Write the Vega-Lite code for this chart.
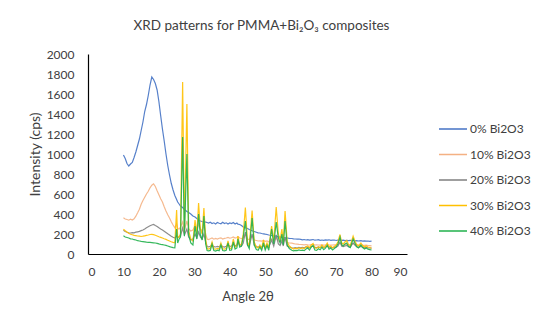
{
  "$schema": "https://vega.github.io/schema/vega-lite/v6.json",
  "width": 319,
  "height": 200,
  "autosize": {"type": "none"},
  "padding": {"left": 88, "top": 54, "right": 143, "bottom": 73},
  "background": "white",
  "title": {"text": "XRD patterns for PMMA+Bi₂O₃ composites", "font": "Lato", "fontSize": 13.5, "fontWeight": "normal", "color": "#404040", "anchor": "middle", "dx": 14, "offset": 16},
  "data": {"values": [
    {"a":10,"s0":990,"s10":362,"s20":238,"s30":248,"s40":182},
    {"a":10.5,"s0":955,"s10":350,"s20":225,"s30":232,"s40":170},
    {"a":11,"s0":905,"s10":345,"s20":218,"s30":220,"s40":165},
    {"a":11.5,"s0":880,"s10":338,"s20":212,"s30":208,"s40":160},
    {"a":12,"s0":900,"s10":348,"s20":210,"s30":198,"s40":152},
    {"a":12.5,"s0":915,"s10":340,"s20":214,"s30":192,"s40":150},
    {"a":13,"s0":965,"s10":352,"s20":212,"s30":186,"s40":143},
    {"a":13.5,"s0":1020,"s10":378,"s20":218,"s30":184,"s40":140},
    {"a":14,"s0":1085,"s10":412,"s20":222,"s30":180,"s40":133},
    {"a":14.5,"s0":1150,"s10":448,"s20":226,"s30":178,"s40":130},
    {"a":15,"s0":1235,"s10":498,"s20":234,"s30":175,"s40":126},
    {"a":15.5,"s0":1320,"s10":535,"s20":240,"s30":178,"s40":124},
    {"a":16,"s0":1425,"s10":568,"s20":250,"s30":182,"s40":121},
    {"a":16.5,"s0":1495,"s10":600,"s20":262,"s30":186,"s40":118},
    {"a":17,"s0":1585,"s10":628,"s20":272,"s30":190,"s40":117},
    {"a":17.5,"s0":1690,"s10":662,"s20":282,"s30":195,"s40":116},
    {"a":18,"s0":1770,"s10":688,"s20":290,"s30":196,"s40":114},
    {"a":18.5,"s0":1745,"s10":702,"s20":296,"s30":194,"s40":112},
    {"a":19,"s0":1705,"s10":675,"s20":285,"s30":188,"s40":110},
    {"a":19.5,"s0":1640,"s10":632,"s20":275,"s30":180,"s40":106},
    {"a":20,"s0":1525,"s10":592,"s20":262,"s30":172,"s40":101},
    {"a":20.5,"s0":1385,"s10":552,"s20":250,"s30":166,"s40":97},
    {"a":21,"s0":1250,"s10":520,"s20":240,"s30":160,"s40":94},
    {"a":21.5,"s0":1130,"s10":472,"s20":228,"s30":152,"s40":90},
    {"a":22,"s0":1000,"s10":430,"s20":215,"s30":146,"s40":86},
    {"a":22.5,"s0":885,"s10":392,"s20":202,"s30":138,"s40":80},
    {"a":23,"s0":790,"s10":360,"s20":190,"s30":130,"s40":74},
    {"a":23.5,"s0":705,"s10":322,"s20":178,"s30":122,"s40":68},
    {"a":24,"s0":640,"s10":290,"s20":168,"s30":116,"s40":64},
    {"a":24.5,"s0":585,"s10":262,"s20":160,"s30":112,"s40":62},
    {"a":25,"s0":545,"s10":300,"s20":180,"s30":440,"s40":250},
    {"a":25.3,"s0":520,"s10":255,"s20":165,"s30":160,"s40":110},
    {"a":25.7,"s0":500,"s10":250,"s20":170,"s30":175,"s40":150},
    {"a":26.1,"s0":480,"s10":270,"s20":180,"s30":200,"s40":170},
    {"a":26.7,"s0":465,"s10":320,"s20":260,"s30":1720,"s40":1170},
    {"a":27.2,"s0":445,"s10":240,"s20":190,"s30":220,"s40":180},
    {"a":27.9,"s0":425,"s10":330,"s20":250,"s30":1500,"s40":1000},
    {"a":28.4,"s0":415,"s10":250,"s20":170,"s30":230,"s40":190},
    {"a":29,"s0":400,"s10":230,"s20":140,"s30":150,"s40":110},
    {"a":29.6,"s0":380,"s10":240,"s20":150,"s30":130,"s40":90},
    {"a":30.2,"s0":370,"s10":280,"s20":200,"s30":340,"s40":280},
    {"a":30.7,"s0":355,"s10":240,"s20":160,"s30":200,"s40":150},
    {"a":31.2,"s0":340,"s10":300,"s20":220,"s30":510,"s40":400},
    {"a":31.7,"s0":330,"s10":250,"s20":170,"s30":250,"s40":190},
    {"a":32.2,"s0":325,"s10":230,"s20":150,"s30":200,"s40":140},
    {"a":32.7,"s0":322,"s10":290,"s20":200,"s30":460,"s40":380},
    {"a":33.2,"s0":318,"s10":200,"s20":120,"s30":150,"s40":100},
    {"a":33.6,"s0":315,"s10":150,"s20":75,"s30":55,"s40":35},
    {"a":34,"s0":310,"s10":145,"s20":72,"s30":50,"s40":32},
    {"a":34.5,"s0":318,"s10":152,"s20":78,"s30":58,"s40":36},
    {"a":35,"s0":305,"s10":160,"s20":90,"s30":120,"s40":100},
    {"a":35.5,"s0":312,"s10":148,"s20":74,"s30":52,"s40":34},
    {"a":36,"s0":300,"s10":155,"s20":70,"s30":48,"s40":30},
    {"a":36.5,"s0":315,"s10":150,"s20":76,"s30":55,"s40":38},
    {"a":37,"s0":308,"s10":158,"s20":72,"s30":50,"s40":33},
    {"a":37.5,"s0":302,"s10":162,"s20":85,"s30":110,"s40":90},
    {"a":38,"s0":318,"s10":150,"s20":74,"s30":52,"s40":35},
    {"a":38.5,"s0":305,"s10":156,"s20":70,"s30":48,"s40":32},
    {"a":39,"s0":312,"s10":160,"s20":78,"s30":56,"s40":38},
    {"a":39.5,"s0":300,"s10":165,"s20":95,"s30":130,"s40":110},
    {"a":40,"s0":310,"s10":158,"s20":76,"s30":54,"s40":36},
    {"a":40.5,"s0":304,"s10":162,"s20":80,"s30":60,"s40":40},
    {"a":41,"s0":315,"s10":170,"s20":100,"s30":150,"s40":120},
    {"a":41.5,"s0":300,"s10":160,"s20":82,"s30":70,"s40":50},
    {"a":42,"s0":310,"s10":165,"s20":90,"s30":80,"s40":60},
    {"a":42.3,"s0":298,"s10":175,"s20":120,"s30":180,"s40":150},
    {"a":42.8,"s0":295,"s10":160,"s20":85,"s30":90,"s40":70},
    {"a":43.3,"s0":285,"s10":155,"s20":80,"s30":100,"s40":80},
    {"a":43.8,"s0":270,"s10":160,"s20":110,"s30":200,"s40":170},
    {"a":44.4,"s0":262,"s10":200,"s20":220,"s30":465,"s40":330},
    {"a":45,"s0":255,"s10":150,"s20":90,"s30":120,"s40":90},
    {"a":45.5,"s0":245,"s10":145,"s20":80,"s30":80,"s40":55},
    {"a":46.3,"s0":232,"s10":180,"s20":200,"s30":435,"s40":360},
    {"a":46.9,"s0":225,"s10":140,"s20":90,"s30":120,"s40":90},
    {"a":47.5,"s0":218,"s10":135,"s20":75,"s30":70,"s40":45},
    {"a":48,"s0":212,"s10":130,"s20":70,"s30":60,"s40":38},
    {"a":48.5,"s0":210,"s10":132,"s20":74,"s30":90,"s40":70},
    {"a":49,"s0":205,"s10":128,"s20":68,"s30":58,"s40":36},
    {"a":49.5,"s0":202,"s10":135,"s20":85,"s30":140,"s40":110},
    {"a":50,"s0":198,"s10":126,"s20":70,"s30":62,"s40":40},
    {"a":50.5,"s0":195,"s10":130,"s20":80,"s30":110,"s40":85},
    {"a":51,"s0":190,"s10":122,"s20":68,"s30":60,"s40":38},
    {"a":51.8,"s0":185,"s10":150,"s20":140,"s30":280,"s40":250},
    {"a":52.4,"s0":180,"s10":125,"s20":80,"s30":130,"s40":100},
    {"a":53.1,"s0":178,"s10":160,"s20":190,"s30":470,"s40":320},
    {"a":53.7,"s0":172,"s10":130,"s20":100,"s30":200,"s40":160},
    {"a":54.2,"s0":170,"s10":125,"s20":85,"s30":140,"s40":110},
    {"a":54.7,"s0":168,"s10":140,"s20":130,"s30":250,"s40":200},
    {"a":55.1,"s0":165,"s10":120,"s20":80,"s30":120,"s40":90},
    {"a":55.6,"s0":162,"s10":150,"s20":170,"s30":430,"s40":330},
    {"a":56.2,"s0":160,"s10":115,"s20":80,"s30":120,"s40":90},
    {"a":56.8,"s0":157,"s10":110,"s20":70,"s30":80,"s40":55},
    {"a":57.5,"s0":155,"s10":108,"s20":62,"s30":60,"s40":38},
    {"a":58,"s0":152,"s10":104,"s20":60,"s30":50,"s40":32},
    {"a":58.5,"s0":150,"s10":100,"s20":64,"s30":58,"s40":36},
    {"a":59,"s0":148,"s10":98,"s20":60,"s30":52,"s40":33},
    {"a":59.5,"s0":150,"s10":96,"s20":66,"s30":62,"s40":40},
    {"a":60,"s0":146,"s10":95,"s20":62,"s30":55,"s40":35},
    {"a":60.5,"s0":142,"s10":94,"s20":66,"s30":60,"s40":38},
    {"a":61,"s0":145,"s10":92,"s20":62,"s30":54,"s40":34},
    {"a":61.5,"s0":140,"s10":95,"s20":70,"s30":72,"s40":50},
    {"a":62,"s0":143,"s10":92,"s20":66,"s30":80,"s40":60},
    {"a":62.5,"s0":138,"s10":90,"s20":64,"s30":62,"s40":40},
    {"a":63,"s0":142,"s10":94,"s20":72,"s30":90,"s40":70},
    {"a":63.5,"s0":145,"s10":96,"s20":78,"s30":105,"s40":85},
    {"a":64,"s0":138,"s10":90,"s20":66,"s30":60,"s40":40},
    {"a":64.5,"s0":140,"s10":92,"s20":64,"s30":58,"s40":36},
    {"a":65,"s0":143,"s10":90,"s20":68,"s30":72,"s40":52},
    {"a":65.5,"s0":137,"s10":88,"s20":65,"s30":62,"s40":42},
    {"a":66,"s0":140,"s10":92,"s20":72,"s30":90,"s40":68},
    {"a":66.5,"s0":136,"s10":88,"s20":66,"s30":64,"s40":44},
    {"a":67,"s0":141,"s10":90,"s20":70,"s30":80,"s40":58},
    {"a":67.5,"s0":138,"s10":94,"s20":78,"s30":110,"s40":88},
    {"a":68,"s0":142,"s10":90,"s20":68,"s30":70,"s40":48},
    {"a":68.5,"s0":136,"s10":88,"s20":66,"s30":80,"s40":60},
    {"a":69,"s0":139,"s10":90,"s20":64,"s30":60,"s40":40},
    {"a":69.5,"s0":140,"s10":92,"s20":70,"s30":75,"s40":55},
    {"a":70,"s0":135,"s10":90,"s20":68,"s30":90,"s40":70},
    {"a":70.5,"s0":138,"s10":94,"s20":80,"s30":120,"s40":100},
    {"a":71.1,"s0":140,"s10":110,"s20":120,"s30":195,"s40":170},
    {"a":71.6,"s0":136,"s10":92,"s20":78,"s30":110,"s40":90},
    {"a":72,"s0":138,"s10":90,"s20":74,"s30":100,"s40":80},
    {"a":72.5,"s0":134,"s10":92,"s20":80,"s30":120,"s40":100},
    {"a":73,"s0":136,"s10":95,"s20":86,"s30":135,"s40":110},
    {"a":73.5,"s0":133,"s10":90,"s20":74,"s30":95,"s40":75},
    {"a":74,"s0":137,"s10":88,"s20":70,"s30":85,"s40":65},
    {"a":74.8,"s0":135,"s10":105,"s20":110,"s30":178,"s40":150},
    {"a":75.3,"s0":132,"s10":95,"s20":90,"s30":130,"s40":110},
    {"a":75.8,"s0":134,"s10":90,"s20":72,"s30":95,"s40":75},
    {"a":76.3,"s0":130,"s10":88,"s20":66,"s30":80,"s40":60},
    {"a":77,"s0":133,"s10":92,"s20":75,"s30":110,"s40":90},
    {"a":77.5,"s0":129,"s10":88,"s20":68,"s30":85,"s40":65},
    {"a":78,"s0":131,"s10":86,"s20":64,"s30":70,"s40":50},
    {"a":78.5,"s0":128,"s10":88,"s20":66,"s30":80,"s40":60},
    {"a":79,"s0":130,"s10":85,"s20":62,"s30":70,"s40":48},
    {"a":79.5,"s0":126,"s10":84,"s20":60,"s30":65,"s40":44},
    {"a":80,"s0":128,"s10":82,"s20":58,"s30":58,"s40":40}
  ]},
  "transform": [{"fold": ["s0", "s10", "s20", "s30", "s40"], "as": ["series", "I"]}],
  "mark": {"type": "line", "strokeWidth": 1.2, "strokeOpacity": 0.9},
  "encoding": {
    "x": {"field": "a", "type": "quantitative",
      "scale": {"domain": [0, 90], "nice": false},
      "axis": {"values": [0, 10, 20, 30, 40, 50, 60, 70, 80, 90], "title": "Angle 2θ", "labelPadding": 12, "titlePadding": 13}},
    "y": {"field": "I", "type": "quantitative",
      "scale": {"domain": [0, 2000], "nice": false},
      "axis": {"values": [0, 200, 400, 600, 800, 1000, 1200, 1400, 1600, 1800, 2000], "format": "d", "title": "Intensity (cps)", "labelPadding": 14, "titlePadding": 4, "titleFontSize": 14}},
    "color": {"field": "series", "type": "nominal",
      "scale": {"domain": ["s0", "s10", "s20", "s30", "s40"], "range": ["#4472C4", "#F4B183", "#7F7F7F", "#FFC000", "#21B04B"]},
      "legend": {"title": null, "orient": "none", "legendX": 350, "legendY": 68,
        "symbolType": "stroke", "symbolSize": 784, "symbolStrokeWidth": 1.5,
        "labelExpr": "{'s0':'0% Bi2O3','s10':'10% Bi2O3','s20':'20% Bi2O3','s30':'30% Bi2O3','s40':'40% Bi2O3'}[datum.value]",
        "labelFont": "Lato", "labelFontSize": 12, "labelColor": "#404040", "labelOffset": 2, "clipHeight": 14, "rowPadding": 11.5}}
  },
  "config": {
    "view": {"stroke": null},
    "axis": {"grid": false, "ticks": false, "domainColor": "#000000", "domainWidth": 1.2,
      "labelFont": "Lato", "labelFontSize": 12, "labelColor": "#404040",
      "titleFont": "Lato", "titleFontSize": 13, "titleFontWeight": "normal", "titleColor": "#404040"}
  }
}
